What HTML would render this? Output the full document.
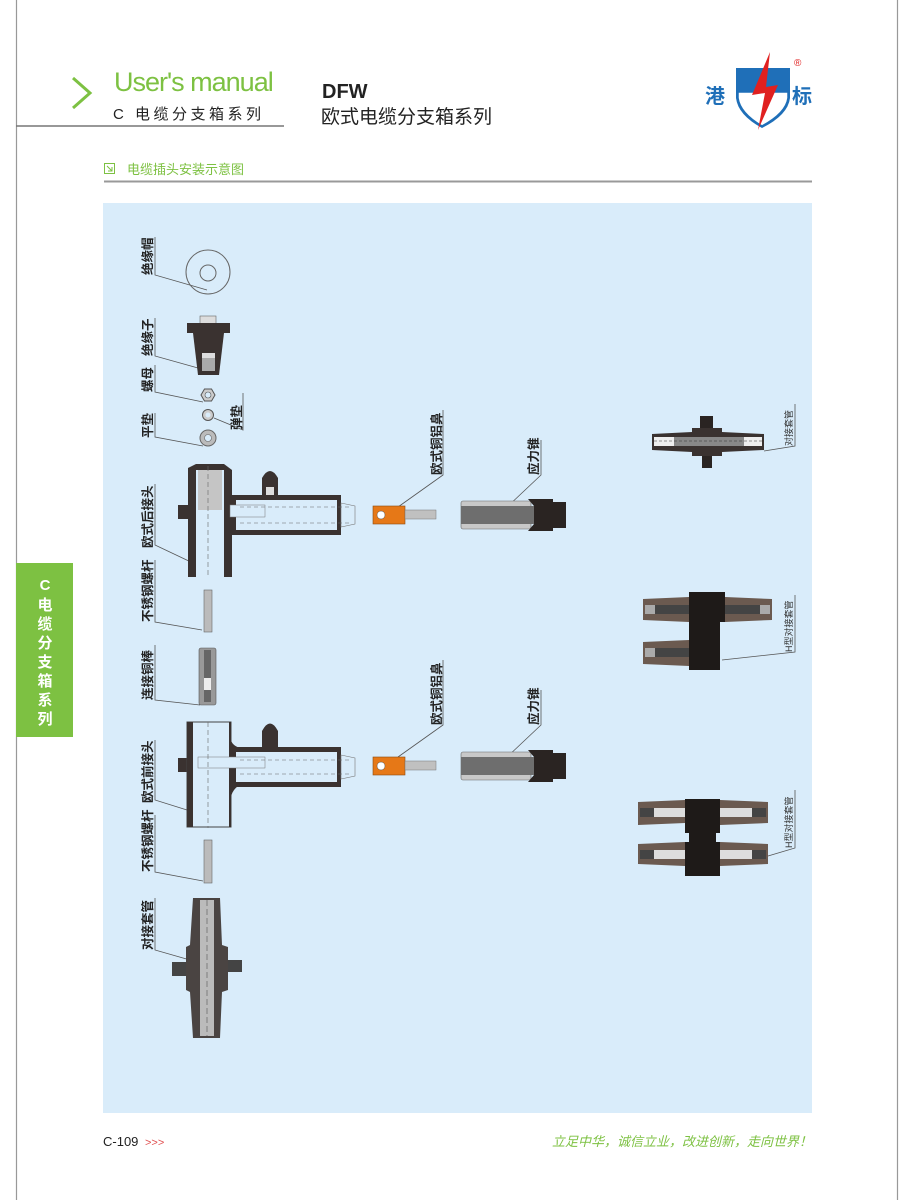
<!DOCTYPE html>
<html><head><meta charset="utf-8"><style>
body{margin:0;background:#fff;}
#p{position:relative;width:910px;height:1200px;overflow:hidden;font-family:"Liberation Sans","Noto Sans CJK SC",sans-serif;}
</style></head><body><div id="p">
<svg width="910" height="1200" viewBox="0 0 910 1200" xmlns="http://www.w3.org/2000/svg" font-family="Liberation Sans, Noto Sans CJK SC, sans-serif">
<line x1="16.5" y1="0" x2="16.5" y2="1200" stroke="#999" stroke-width="1.2"/>
<line x1="897.5" y1="0" x2="897.5" y2="1200" stroke="#999" stroke-width="1.2"/>
<polyline points="73,78 90,93 73,108" fill="none" stroke="#7dc142" stroke-width="3"/>
<text x="114" y="91" font-size="27" fill="#7dc142" letter-spacing="-1">User's manual</text>
<text x="113" y="119" font-size="15" fill="#222" letter-spacing="3.5">C 电缆分支箱系列</text>
<line x1="16" y1="126" x2="284" y2="126" stroke="#777" stroke-width="1.5"/>
<text x="322" y="98" font-size="20" font-weight="bold" fill="#222">DFW</text>
<text x="321" y="123" font-size="19" fill="#222">欧式电缆分支箱系列</text>
<path d="M736,68 L790,68 L790,98 Q788,115 762,128 Q738,115 736,98 Z" fill="#1f6fb8"/>
<path d="M738,92 L788,92 L788,98 Q786,113 762,126 Q740,113 738,98 Z" fill="#fff" stroke="#1f6fb8" stroke-width="1.5"/>
<path d="M770,52 L752,95 L765,93 L758,130 L778,85 L766,87 Z" fill="#e02020"/>
<text x="705" y="103" font-size="20" font-weight="bold" fill="#1f6fb8">港</text>
<text x="792" y="103" font-size="20" font-weight="bold" fill="#1f6fb8">标</text>
<text x="794" y="66" font-size="10" fill="#e02020">®</text>
<rect x="104.5" y="163.5" width="10" height="10" fill="none" stroke="#7dc142"/>
<path d="M107,166 L112,171 M112,167 L112,171 L108,171" stroke="#7dc142" fill="none"/>
<text x="127" y="174" font-size="13" fill="#7dc142">电缆插头安装示意图</text>
<line x1="104" y1="181.5" x2="812" y2="181.5" stroke="#999" stroke-width="2"/>
<rect x="103" y="203" width="709" height="910" fill="#d9ecfa"/>
<rect x="16" y="563" width="57" height="174" fill="#7dc142"/>
<g font-size="15" font-weight="bold" fill="#fff" text-anchor="middle">
<text x="45" y="590">C</text><text x="45" y="610">电</text><text x="45" y="629">缆</text><text x="45" y="648">分</text><text x="45" y="667">支</text><text x="45" y="686">箱</text><text x="45" y="705">系</text><text x="45" y="724">列</text></g>
<g font-size="12.5" fill="#222" font-weight="bold">
<text transform="translate(152,275) rotate(-90)">绝缘帽</text>
<text transform="translate(152,356) rotate(-90)">绝缘子</text>
<text transform="translate(152,392) rotate(-90)">螺母</text>
<text transform="translate(152,438) rotate(-90)">平垫</text>
<text transform="translate(241,430) rotate(-90)">弹垫</text>
<text transform="translate(152,548) rotate(-90)">欧式后接头</text>
<text transform="translate(152,622) rotate(-90)">不锈钢螺杆</text>
<text transform="translate(152,700) rotate(-90)">连接铜棒</text>
<text transform="translate(152,803) rotate(-90)">欧式前接头</text>
<text transform="translate(152,872) rotate(-90)">不锈钢螺杆</text>
<text transform="translate(152,950) rotate(-90)">对接套管</text>
<text transform="translate(441,475) rotate(-90)">欧式铜铝鼻</text>
<text transform="translate(441,725) rotate(-90)">欧式铜铝鼻</text>
<text transform="translate(538,475) rotate(-90)">应力锥</text>
<text transform="translate(538,725) rotate(-90)">应力锥</text>
</g>
<g font-size="9" fill="#333">
<text transform="translate(792,446) rotate(-90)">对接套管</text>
<text transform="translate(792,652) rotate(-90)">H型对接套管</text>
<text transform="translate(792,848) rotate(-90)">H型对接套管</text>
</g>
<g stroke="#555" stroke-width="0.8" fill="none">
<polyline points="155,237 155,275 207,290"/>
<polyline points="155,318 155,356 198,368"/>
<polyline points="155,365 155,392 203,402"/>
<polyline points="155,413 155,437 203,446"/>
<polyline points="243,393 243,430 214,418"/>
<polyline points="155,484 155,545 193,563"/>
<polyline points="155,560 155,622 202,630"/>
<polyline points="155,645 155,700 200,705"/>
<polyline points="155,740 155,800 187,810"/>
<polyline points="155,815 155,872 203,881"/>
<polyline points="155,898 155,950 190,960"/>
<polyline points="443,410 443,475 398,507"/>
<polyline points="443,660 443,725 398,757"/>
<polyline points="541,440 541,475 506,508"/>
<polyline points="541,690 541,725 506,758"/>
<polyline points="795,404 795,446 764,451"/>
<polyline points="795,595 795,652 722,660"/>
<polyline points="795,790 795,848 768,856"/>
</g>
<circle cx="208" cy="272" r="22" fill="none" stroke="#666"/>
<circle cx="208" cy="273" r="8" fill="none" stroke="#666"/>
<rect x="200" y="316" width="16" height="8" fill="#ddd" stroke="#666" stroke-width="0.6"/>
<rect x="187" y="323" width="43" height="10" fill="#3a3230"/>
<path d="M193,333 L224,333 L219,375 L198,375 Z" fill="#3a3230"/>
<rect x="202" y="353" width="13" height="18" fill="#aaa"/>
<rect x="202" y="353" width="13" height="5" fill="#ddd"/>
<polygon points="201,395 204.5,389 211.5,389 215,395 211.5,401 204.5,401" fill="#ccc" stroke="#555"/>
<circle cx="208" cy="395" r="3" fill="#d9ecfa" stroke="#555" stroke-width="0.6"/>
<circle cx="208" cy="415" r="5.5" fill="#ccc" stroke="#555"/>
<circle cx="208" cy="415" r="2.5" fill="#d9ecfa"/>
<circle cx="208" cy="438" r="8" fill="#bbb" stroke="#666"/>
<circle cx="208" cy="438" r="3.5" fill="#d9ecfa" stroke="#666" stroke-width="0.6"/>
<g>
<rect x="178" y="505" width="10" height="14" fill="#3a3230"/>
<path d="M188,468 L196,464 L224,464 L232,470 L232,577 L188,577 Z" fill="#3a3230"/>
<rect x="196" y="470" width="28" height="107" fill="#d9ecfa"/>
<rect x="198" y="470" width="24" height="40" fill="#c5c5c5"/>
<rect x="231" y="495" width="110" height="40" fill="#3a3230"/>
<rect x="236" y="500" width="101" height="30" fill="#d9ecfa"/>
<rect x="230" y="505" width="35" height="12" fill="#d9ecfa" stroke="#777" stroke-width="0.5"/>
<path d="M262,495 L262,478 Q270,464 278,478 L278,495 Z" fill="#3a3230"/>
<rect x="266" y="487" width="8" height="8" fill="#ddd"/>
<path d="M341,503 L355,506 L355,524 L341,527 Z" fill="#d9ecfa" stroke="#777" stroke-width="0.6"/>
<line x1="208" y1="466" x2="208" y2="578" stroke="#666" stroke-dasharray="5,3" stroke-width="0.6"/>
<line x1="240" y1="507" x2="352" y2="507" stroke="#666" stroke-dasharray="4,3" stroke-width="0.6"/>
<line x1="240" y1="523" x2="352" y2="523" stroke="#666" stroke-dasharray="4,3" stroke-width="0.6"/>
</g>
<rect x="204" y="590" width="8" height="42" fill="#bbb" stroke="#666" stroke-width="0.6"/>
<rect x="199" y="648" width="17" height="57" rx="2" fill="#999" stroke="#555" stroke-width="0.6"/>
<rect x="204" y="650" width="7" height="52" fill="#666"/>
<rect x="204" y="678" width="7" height="12" fill="#eee"/>
<g>
<rect x="178" y="758" width="10" height="14" fill="#3a3230"/>
<rect x="187" y="722" width="44" height="105" fill="#d9ecfa" stroke="#444"/>
<path d="M187,722 L193,722 L193,827 L187,827 Z" fill="#3a3230"/>
<path d="M229,722 L231,722 L231,827 L229,827 Z" fill="#3a3230"/>
<path d="M230,735 Q230,745 240,748 L240,785 Q230,790 230,805 Z" fill="#3a3230"/>
<rect x="231" y="747" width="110" height="40" fill="#3a3230"/>
<rect x="236" y="752" width="101" height="30" fill="#d9ecfa"/>
<rect x="198" y="757" width="67" height="11" fill="#d9ecfa" stroke="#777" stroke-width="0.5"/>
<path d="M262,747 L262,731 Q270,716 278,731 L278,747 Z" fill="#3a3230"/>
<path d="M341,755 L355,758 L355,776 L341,779 Z" fill="#d9ecfa" stroke="#777" stroke-width="0.6"/>
<line x1="208" y1="722" x2="208" y2="828" stroke="#666" stroke-dasharray="5,3" stroke-width="0.6"/>
<line x1="240" y1="760" x2="352" y2="760" stroke="#666" stroke-dasharray="4,3" stroke-width="0.6"/>
<line x1="240" y1="774" x2="352" y2="774" stroke="#666" stroke-dasharray="4,3" stroke-width="0.6"/>
</g>
<rect x="204" y="840" width="8" height="43" fill="#bbb" stroke="#666" stroke-width="0.6"/>
<rect x="172" y="962" width="14" height="14" fill="#444"/>
<rect x="222" y="960" width="20" height="12" fill="#444"/>
<path d="M193,898 L220,898 L222,945 L228,947 L228,990 L222,992 L220,1038 L193,1038 L190,992 L186,990 L186,947 L190,945 Z" fill="#4a4442"/>
<rect x="200" y="900" width="14" height="136" fill="#bbb"/>
<line x1="207" y1="900" x2="207" y2="1036" stroke="#555" stroke-dasharray="6,3" stroke-width="0.6"/>
<rect x="373" y="506" width="32" height="18" fill="#e67817" stroke="#8a4a10" stroke-width="0.6"/>
<circle cx="381" cy="515" r="4" fill="#fff" stroke="#555" stroke-width="0.5"/>
<rect x="405" y="510" width="31" height="9" fill="#c0c0c0" stroke="#777" stroke-width="0.5"/>
<rect x="373" y="757" width="32" height="18" fill="#e67817" stroke="#8a4a10" stroke-width="0.6"/>
<circle cx="381" cy="766" r="4" fill="#fff" stroke="#555" stroke-width="0.5"/>
<rect x="405" y="761" width="31" height="9" fill="#c0c0c0" stroke="#777" stroke-width="0.5"/>
<g id="sc">
<rect x="461" y="501" width="70" height="28" rx="2" fill="#c8c8c8" stroke="#666" stroke-width="0.6"/>
<rect x="461" y="506" width="105" height="18" fill="#6e6e6e"/>
<path d="M528,499 L553,499 L553,502 L566,502 L566,528 L553,528 L553,531 L528,531 L534,524 L534,506 Z" fill="#2a2422"/>
</g>
<use href="#sc" y="251"/>
<rect x="700" y="416" width="13" height="18" fill="#2a2422"/>
<rect x="702" y="452" width="10" height="16" fill="#2a2422"/>
<path d="M652,434 L692,432 L692,428 L722,428 L722,432 L764,434 L764,450 L722,452 L722,456 L692,456 L692,452 L652,450 Z" fill="#3a3230"/>
<rect x="654" y="437" width="108" height="9" fill="#888"/>
<rect x="654" y="437" width="20" height="9" fill="#eee"/>
<rect x="744" y="437" width="18" height="9" fill="#eee"/>
<line x1="654" y1="441" x2="762" y2="441" stroke="#333" stroke-dasharray="3,2" stroke-width="0.5"/>
<!-- H type 1 -->
<g>
<path d="M643,599 L689,597 L689,622 L643,620 Z" fill="#6b5a50"/>
<path d="M725,597 L772,599 L772,620 L725,622 Z" fill="#6b5a50"/>
<path d="M643,642 L689,640 L689,666 L643,664 Z" fill="#6b5a50"/>
<rect x="645" y="605" width="125" height="9" fill="#444"/>
<rect x="645" y="648" width="44" height="9" fill="#444"/>
<rect x="645" y="605" width="10" height="9" fill="#aaa"/>
<rect x="760" y="605" width="10" height="9" fill="#aaa"/>
<rect x="645" y="648" width="10" height="9" fill="#aaa"/>
<path d="M689,592 L725,592 L725,622 L720,622 L720,670 L689,670 Z" fill="#1e1a18"/>
</g>
<g>
<path d="M638,802 L685,800 L685,823 L638,825 Z" fill="#6b5a50"/>
<path d="M720,800 L768,802 L768,823 L720,825 Z" fill="#6b5a50"/>
<path d="M638,844 L685,842 L685,866 L638,864 Z" fill="#6b5a50"/>
<path d="M720,842 L768,844 L768,864 L720,866 Z" fill="#6b5a50"/>
<rect x="640" y="808" width="126" height="9" fill="#ddd"/>
<rect x="640" y="850" width="126" height="9" fill="#ddd"/>
<rect x="640" y="808" width="14" height="9" fill="#444"/>
<rect x="752" y="808" width="14" height="9" fill="#444"/>
<rect x="640" y="850" width="14" height="9" fill="#444"/>
<rect x="752" y="850" width="14" height="9" fill="#444"/>
<path d="M685,799 L720,799 L720,833 L716,833 L716,842 L720,842 L720,876 L685,876 L685,842 L689,842 L689,833 L685,833 Z" fill="#1e1a18"/>
</g>
<text x="103" y="1146" font-size="13" fill="#222">C-109</text>
<text x="145" y="1146" font-size="11" fill="#e05050">&gt;&gt;&gt;</text>
<text x="812" y="1146" font-size="13" fill="#7dc142" font-style="italic" text-anchor="end">立足中华，诚信立业，改进创新，走向世界！</text>
</svg>
</div></body></html>
